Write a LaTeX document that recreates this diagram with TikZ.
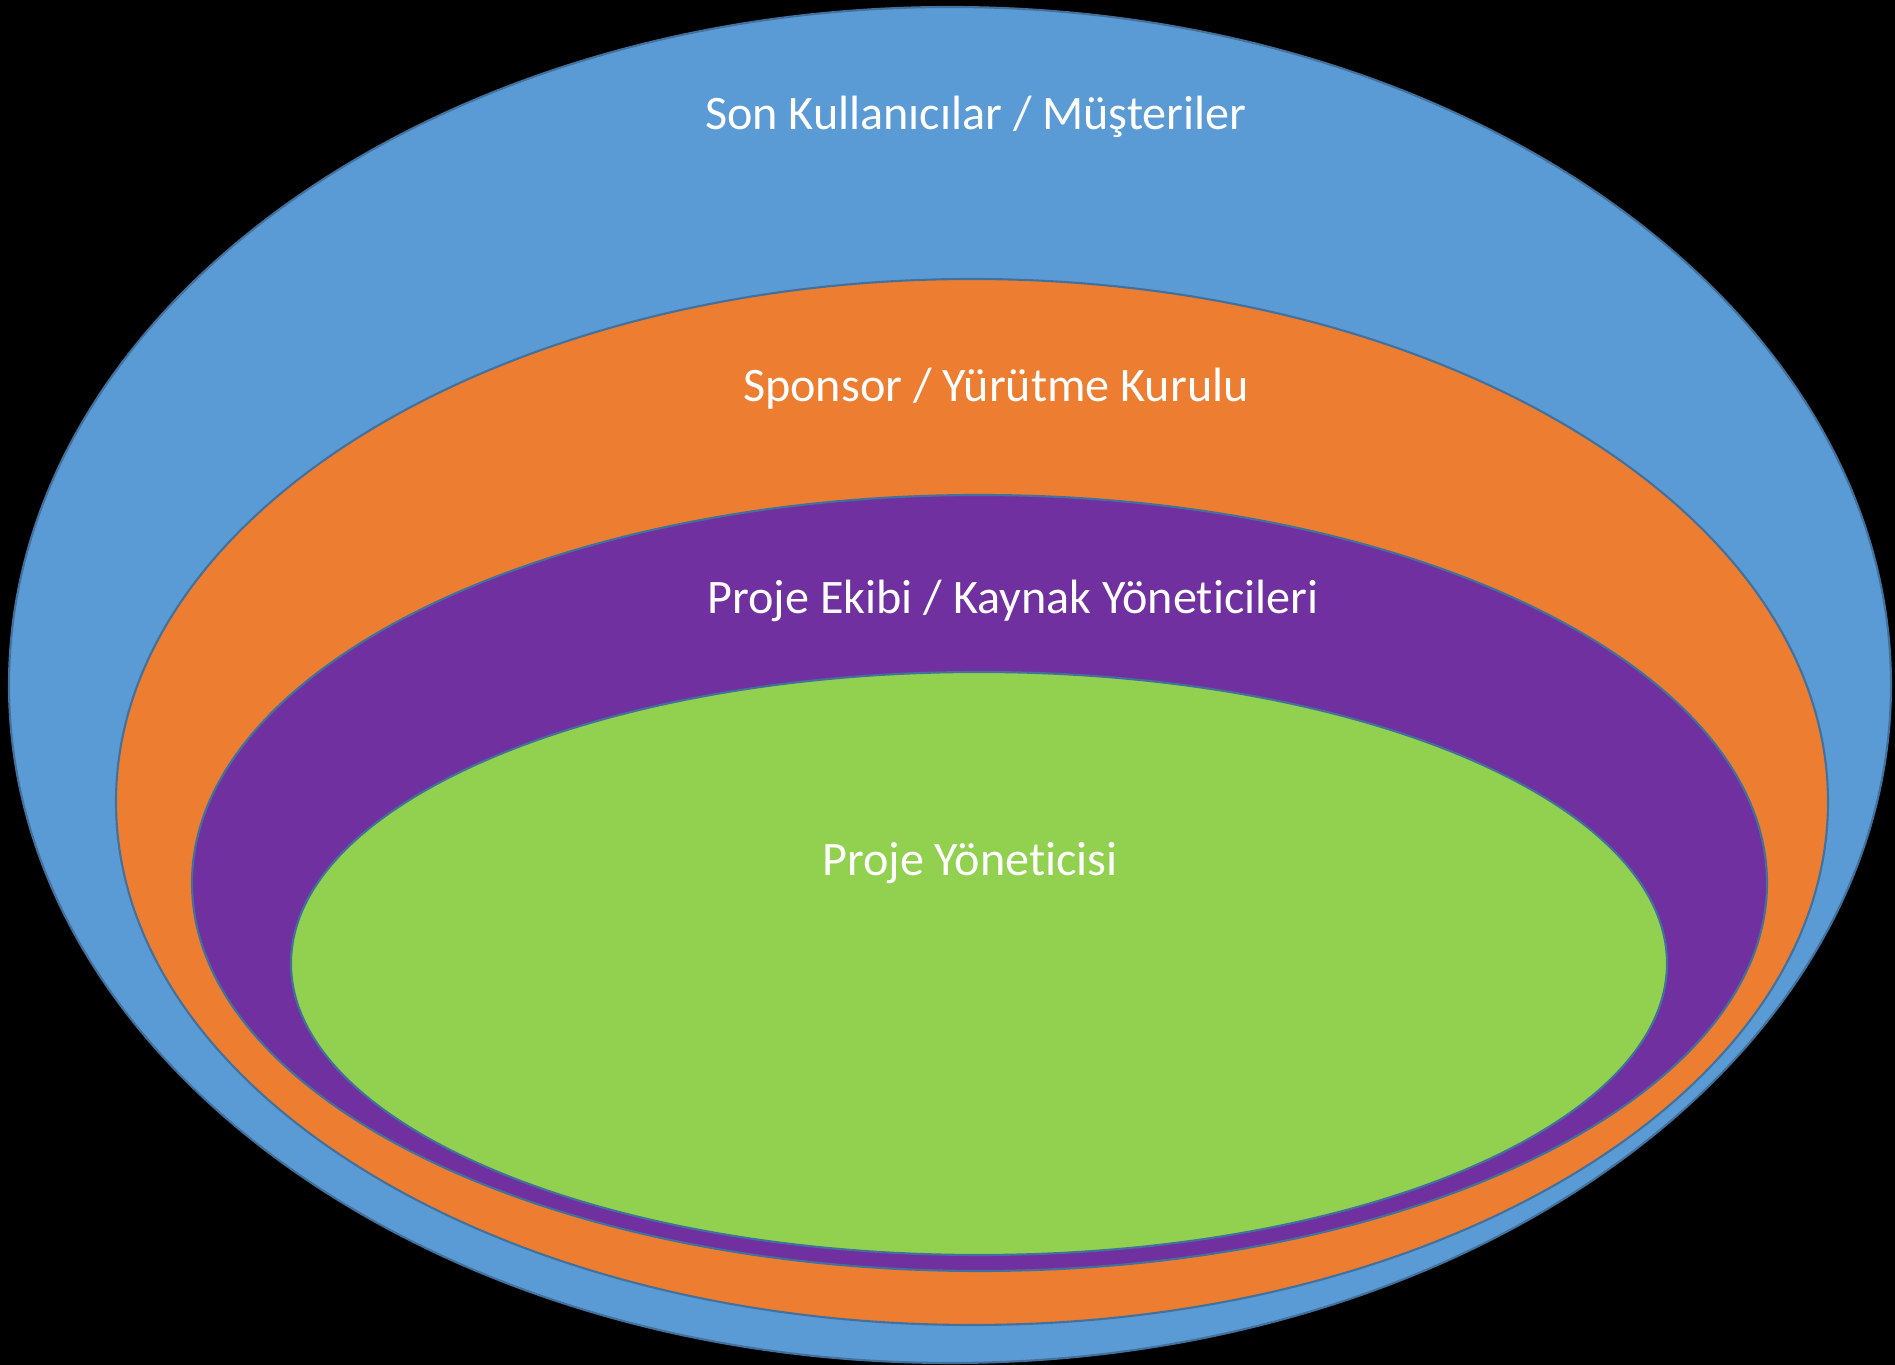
\documentclass[tikz,border=0pt]{standalone}
\usepackage{fontspec}
\setmainfont{Carlito}[Ligatures=NoCommon]
\usepackage{xcolor}
\definecolor{custblue}{HTML}{5B9BD5}
\definecolor{sponsorange}{HTML}{ED7D31}
\definecolor{teampurple}{HTML}{7030A0}
\definecolor{pmgreen}{HTML}{92D050}
\definecolor{rimline}{HTML}{41719C}

\begin{document}
\begin{tikzpicture}[ring/.style={draw=rimline,line width=0.6pt},
    lbl/.style={text=white,font=\fontsize{13.7}{16}\selectfont,inner sep=0pt,anchor=base}]
            \fill[black] (0,0) rectangle (18.95,13.65);
            \useasboundingbox (0,0) rectangle (18.95,13.65);
            \filldraw[ring,fill=custblue] (9.50,6.80) ellipse (9.41 and 6.78);
            \filldraw[ring,fill=sponsorange] (9.72,5.63) ellipse (8.56 and 5.23);
            \filldraw[ring,fill=teampurple] (9.795,4.82) ellipse (7.875 and 3.88);
            \filldraw[ring,fill=pmgreen] (9.79,4.015) ellipse (6.88 and 2.915);
            \node[lbl] (users) at (9.76,12.35) {Son Kullanıcılar / Müşteriler};
            \node[lbl] (sponsor) at (9.96,9.63) {Sponsor / Yürütme Kurulu};
            \node[lbl] (team) at (10.13,7.51) {Proje Ekibi / Kaynak Yöneticileri};
            \node[lbl] (pm) at (9.70,4.89) {Proje Yöneticisi};
        \end{tikzpicture}
\end{document}
